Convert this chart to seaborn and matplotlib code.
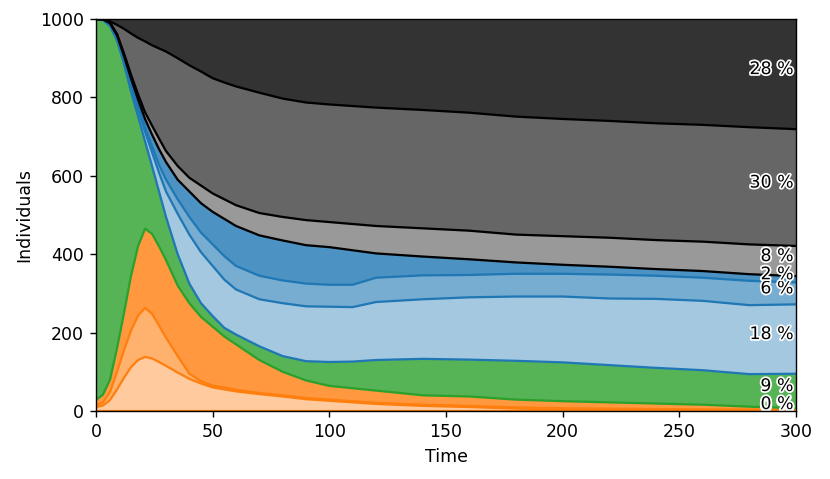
import numpy as np
import pandas as pd
import matplotlib
matplotlib.use("Agg")
import matplotlib.pyplot as plt
import matplotlib.patheffects as pe
import seaborn as sns

# ---- data (individuals per compartment) ----
time = [0, 3, 6, 9, 12, 15, 18, 21, 24, 27, 30, 35, 40, 45, 50, 55, 60, 70, 80,
        90, 100, 110, 120, 140, 160, 180, 200, 220, 240, 260, 280, 300]

exposed_1 = [10, 14, 28, 55, 85, 112, 130, 138, 134, 125, 115, 98, 82, 70, 60, 55, 50, 43, 37,
             30, 26, 22, 18, 13, 10, 6, 4, 3, 3, 2, 2, 1]
exposed_2 = [5, 8, 20, 45, 70, 93, 113, 125, 114, 93, 72, 42, 13, 6, 5, 5, 4, 3, 3,
             3, 3, 3, 3, 3, 3, 3, 3, 3, 2, 2, 2, 2]
exposed_3 = [13, 20, 32, 60, 95, 140, 177, 202, 204, 202, 198, 180, 180, 164, 150, 130, 116, 84, 60,
             45, 35, 33, 31, 24, 24, 20, 18, 16, 14, 12, 7, 4]
susceptible = [972, 955, 902, 785, 635, 470, 332, 223, 173, 140, 110, 80, 50, 35, 27, 22, 25, 35, 40,
               49, 61, 68, 78, 93, 94, 99, 99, 95, 91, 88, 83, 88]
infected_1 = [0, 1, 3, 5, 8, 15, 18, 24, 35, 48, 65, 103, 125, 130, 128, 123, 115, 120, 135,
              140, 141, 139, 148, 152, 159, 164, 168, 170, 176, 177, 176, 177]
infected_2 = [0, 0, 2, 4, 5, 8, 10, 13, 15, 20, 30, 37, 45, 50, 55, 60, 60, 60, 58,
              58, 56, 57, 62, 61, 57, 58, 58, 61, 59, 59, 62, 56]
infected_3 = [0, 1, 2, 4, 7, 10, 15, 20, 30, 40, 45, 50, 65, 75, 83, 95, 102, 103, 102,
              98, 96, 88, 62, 48, 40, 29, 23, 20, 17, 17, 17, 16]
removed_1 = [0, 0, 2, 4, 7, 10, 13, 17, 23, 27, 28, 35, 35, 45, 47, 50, 53, 57, 60,
             64, 64, 67, 70, 72, 73, 71, 73, 74, 74, 75, 76, 77]
removed_2 = [0, 0, 3, 23, 63, 105, 144, 181, 205, 230, 254, 275, 287, 291, 294, 298, 303, 307, 302,
             300, 300, 301, 302, 302, 301, 301, 299, 298, 298, 298, 299, 298]
removed_3 = [0, 1, 6, 15, 25, 37, 48, 57, 67, 75, 83, 100, 118, 134, 151, 162, 172, 188, 203,
             213, 218, 222, 226, 232, 239, 249, 255, 260, 266, 270, 276, 281]

layer_names = ["exposed_1", "exposed_2", "exposed_3", "susceptible",
               "infected_1", "infected_2", "infected_3",
               "removed_1", "removed_2", "removed_3"]
layer_values = [exposed_1, exposed_2, exposed_3, susceptible,
                infected_1, infected_2, infected_3,
                removed_1, removed_2, removed_3]
base_colors = ["tab:orange", "tab:orange", "tab:orange", "tab:green",
               "tab:blue", "tab:blue", "tab:blue",
               "black", "black", "black"]
alphas = [0.4, 0.6, 0.8, 0.8, 0.4, 0.6, 0.8, 0.4, 0.6, 0.8]

# ---- figure ----
sns.set_theme(style="ticks")
plt.rcParams.update({
    "font.family": ["DejaVu Sans"],
    "font.size": 10,
    "axes.labelsize": 10,
    "xtick.labelsize": 10,
    "ytick.labelsize": 10,
    "axes.edgecolor": "black",
    "axes.linewidth": 0.8,
    "xtick.color": "black",
    "ytick.color": "black",
    "text.color": "black",
    "axes.labelcolor": "black",
    "xtick.major.size": 3.5,
    "ytick.major.size": 3.5,
    "xtick.major.width": 0.8,
    "ytick.major.width": 0.8,
})

dpi = 125
fig, ax = plt.subplots(figsize=(830 / dpi, 479 / dpi), dpi=dpi)
fig.subplots_adjust(left=0.1157, right=0.959, top=0.9603, bottom=0.142)

df = pd.DataFrame({"time": time})
for name, vals in zip(layer_names, layer_values):
    df[name] = vals

t = df["time"].to_numpy()
stack = df[layer_names].to_numpy().T
upper = np.cumsum(stack, axis=0)
lower = np.vstack([np.zeros_like(upper[0]), upper[:-1]])
total = upper[-1, -1]

for i in range(len(layer_names)):
    ax.fill_between(t, lower[i], upper[i], color=base_colors[i], alpha=alphas[i],
                    linewidth=0, zorder=1)
for i in range(len(layer_names)):
    sns.lineplot(x=t, y=lower[i], color=base_colors[i], linewidth=1.3, ax=ax,
                 zorder=2, estimator=None, sort=False)

# percentage labels at the right edge
for i in range(len(layer_names)):
    final = stack[i, -1]
    mid = (lower[i, -1] + upper[i, -1]) / 2
    ax.text(t[-1] - 1, mid, f"{int(round(100 * final / total))} %", ha="right", va="baseline",
            fontsize=10, color="black", zorder=5,
            path_effects=[pe.withStroke(linewidth=2, foreground="white")])

ax.set_xlim(0, 300)
ax.set_ylim(0, 1000)
ax.set_xticks([0, 50, 100, 150, 200, 250, 300])
ax.set_yticks([0, 200, 400, 600, 800, 1000])
ax.set_xlabel("Time")
ax.set_ylabel("Individuals")
for s in ax.spines.values():
    s.set_visible(True)
    s.set_zorder(6)

fig.savefig("out.png", dpi=dpi)
